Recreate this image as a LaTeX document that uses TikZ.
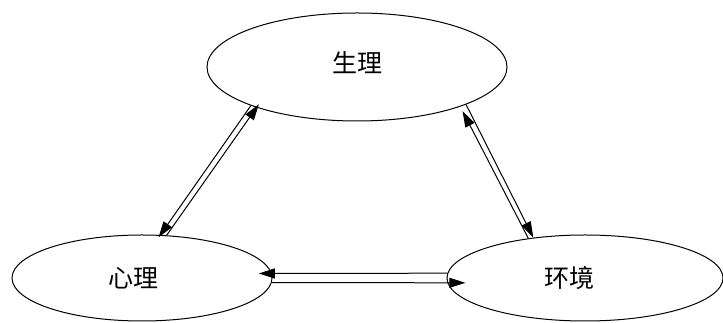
\documentclass[tikz,border=0pt]{standalone}
\usepackage{fontspec}
\newfontfamily\cjk{Noto Sans CJK SC}
\usetikzlibrary{arrows.meta,shapes.geometric}

\tikzset{
  feld/.style={draw, ellipse, line width=1pt, inner sep=0pt,
    font=\cjk\fontsize{25pt}{30pt}\selectfont},
  pfeil/.style={line width=1pt, -{Triangle[length=16pt,width=10pt]}},
}

\begin{document}
\begin{tikzpicture}[x=1pt,y=1pt]

  \useasboundingbox (0,0) rectangle (723,323);

  % Felder
  \node[feld, minimum width=300pt, minimum height=108pt]
    (shengli) at (357,256) {\raisebox{9pt}{生理}};
  \node[feld, minimum width=260pt, minimum height=86pt]
    (xinli) at (142,45) {心理\hspace*{18pt}};
  \node[feld, minimum width=276pt, minimum height=86pt]
    (huanjing) at (585,45) {\raisebox{3pt}{环境}\hspace*{32pt}};

  % links: Psyche <-> Physis
  \draw[pfeil, shorten >=-4pt]
    (xinli.60) -- (shengli.202);
  \draw[pfeil, shorten >=-3pt]
    (shengli.200) -- (xinli.67);

  % rechts: Physis <-> Umwelt
  \draw[pfeil, shorten >=5pt]
    (huanjing.145) -- (shengli.339);
  \draw[pfeil]
    (shengli.341) -- (huanjing.142);

  % unten: Psyche <-> Umwelt
  \draw[pfeil, shorten >=-13pt]
    (huanjing.178) -- (xinli.2);
  \draw[pfeil, shorten >=-18pt]
    (xinli.358) -- (huanjing.182);

\end{tikzpicture}
\end{document}
